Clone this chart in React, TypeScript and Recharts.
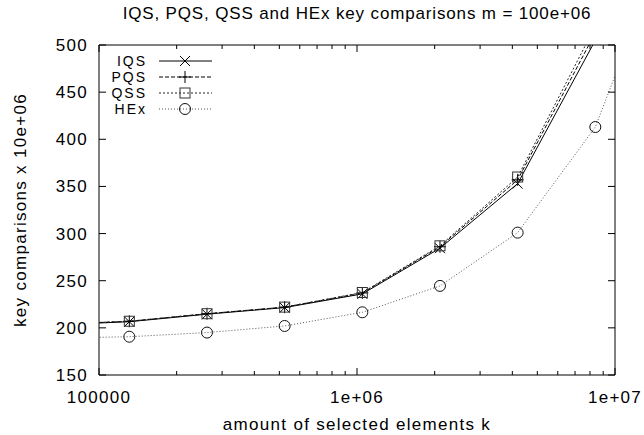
import React from "react";
import {
  LineChart,
  Line,
  XAxis,
  YAxis,
  Legend,
} from "recharts";

// k = 2^16 .. 2^24 (the outer two are clipped by the frame)
const K = [65536, 131072, 262144, 524288, 1048576, 2097152, 4194304, 8388608, 16777216];
const IQS = [203, 206.5, 214.5, 221.5, 236, 284.5, 353, 505, 760];
const PQS = [203.5, 207, 215, 222, 237, 286, 357, 513, 775];
const QSS = [204, 207, 215, 222, 237.5, 287, 360, 520, 790];
const HEX = [189, 190.6, 195, 202, 216.5, 244.5, 301, 413, 627];

const X_TICKS = [
  100000, 200000, 300000, 400000, 500000, 600000, 700000, 800000, 900000,
  1000000, 2000000, 3000000, 4000000, 5000000, 6000000, 7000000, 8000000, 9000000,
  10000000,
];
const X_LABELS: Record<number, string> = {
  100000: "100000",
  1000000: "1e+06",
  10000000: "1e+07",
};
const Y_TICKS = [150, 200, 250, 300, 350, 400, 450, 500];

const TITLE = "IQS, PQS, QSS and HEx key comparisons m = 100e+06";
const X_TITLE = "amount of selected elements k";
const Y_TITLE = "key comparisons x 10e+06";

const data = K.map((k, i) => ({
  k,
  iqs: IQS[i],
  pqs: PQS[i],
  qss: QSS[i],
  hex: HEX[i],
}));

const W = 644;
const H = 435;
const PLOT = { left: 99, right: 615, top: 45, bottom: 375 };
const FONT: React.CSSProperties = {
  fontFamily: '"Liberation Sans", Arial, Helvetica, sans-serif',
  fontSize: 17,
  letterSpacing: 1.3,
};
const TITLE_FONT: React.CSSProperties = { ...FONT, letterSpacing: 0.85 };
const LEGEND_FONT: React.CSSProperties = { ...FONT, fontSize: 14, letterSpacing: 2 };

type Shape = "cross" | "plus" | "square" | "circle";

const Marker = ({ cx, cy, shape, color }: { cx: number; cy: number; shape: Shape; color: string }) => {
  if (cx == null || cy == null || isNaN(cx) || isNaN(cy)) return <g />;
  const r = 5;
  if (shape === "cross")
    return (
      <g stroke={color} strokeWidth={1}>
        <line x1={cx - r} y1={cy - r} x2={cx + r} y2={cy + r} />
        <line x1={cx - r} y1={cy + r} x2={cx + r} y2={cy - r} />
      </g>
    );
  if (shape === "plus")
    return (
      <g stroke={color} strokeWidth={1}>
        <line x1={cx - r - 1} y1={cy} x2={cx + r + 1} y2={cy} />
        <line x1={cx} y1={cy - r - 1} x2={cx} y2={cy + r + 1} />
      </g>
    );
  if (shape === "square")
    return <rect x={cx - r} y={cy - r} width={2 * r} height={2 * r} fill="none" stroke={color} strokeWidth={1} />;
  return <circle cx={cx} cy={cy} r={r + 0.5} fill="none" stroke={color} strokeWidth={1} />;
};

const series = [
  { key: "iqs", name: "IQS", stroke: "#000", dash: undefined, shape: "cross" as Shape, mark: "#000" },
  { key: "pqs", name: "PQS", stroke: "#000", dash: "4 2", shape: "plus" as Shape, mark: "#000" },
  { key: "qss", name: "QSS", stroke: "#222", dash: "2 2", shape: "square" as Shape, mark: "#333" },
  { key: "hex", name: "HEx", stroke: "#555", dash: "1 2", shape: "circle" as Shape, mark: "#111" },
];

const XTick = (props: any) => {
  const { x, payload } = props;
  const v = payload.value;
  const label = X_LABELS[v];
  const len = label ? 7 : 4;
  return (
    <g>
      <line x1={x} x2={x} y1={PLOT.bottom} y2={PLOT.bottom - len} stroke="#000" />
      <line x1={x} x2={x} y1={PLOT.top} y2={PLOT.top + len} stroke="#000" />
      {label && (
        <text x={x} y={403} textAnchor="middle" fill="#000" style={FONT}>
          {label}
        </text>
      )}
    </g>
  );
};

const YTick = (props: any) => {
  const { y, payload } = props;
  return (
    <g>
      <line x1={PLOT.left} x2={PLOT.left + 7} y1={y} y2={y} stroke="#000" />
      <line x1={PLOT.right} x2={PLOT.right - 7} y1={y} y2={y} stroke="#000" />
      <text x={88} y={y + 6} textAnchor="end" fill="#000" style={FONT}>
        {payload.value}
      </text>
    </g>
  );
};

const LegendBox = () => (
  <svg width={230} height={125} style={{ display: "block" }}>
    {series.map((s, i) => {
      const y = 61 + i * 16;
      return (
        <g key={s.key}>
          <text x={147} y={y + 5} textAnchor="end" fill="#000" style={LEGEND_FONT}>
            {s.name}
          </text>
          <line x1={159} x2={212} y1={y} y2={y} stroke={s.stroke} strokeDasharray={s.dash} />
          <Marker cx={185} cy={y} shape={s.shape} color={s.mark} />
        </g>
      );
    })}
  </svg>
);

export default function App() {
  return (
    <div style={{ position: "absolute", left: 0, top: 0, width: W, height: H, background: "#fff" }}>
      <LineChart
        width={W}
        height={H}
        data={data}
        margin={{ top: PLOT.top - 1, right: W - PLOT.right - 1, bottom: 0, left: 0 }}
      >
        <XAxis
          xAxisId="b"
          dataKey="k"
          type="number"
          scale="log"
          domain={[100000, 10000000]}
          allowDataOverflow
          ticks={X_TICKS}
          interval={0}
          height={H - PLOT.bottom}
          tick={<XTick />}
          tickLine={false}
          axisLine={{ stroke: "#000" }}
          label={{ value: X_TITLE, position: "insideBottom", offset: 5, fill: "#000", style: FONT }}
        />
        <XAxis
          xAxisId="t"
          dataKey="k"
          type="number"
          scale="log"
          orientation="top"
          domain={[100000, 10000000]}
          allowDataOverflow
          height={1}
          tick={false}
          tickLine={false}
          axisLine={{ stroke: "#000" }}
          label={{ value: TITLE, position: "top", offset: 25, fill: "#000", style: TITLE_FONT }}
        />
        <YAxis
          yAxisId="l"
          type="number"
          domain={[150, 500]}
          allowDataOverflow
          ticks={Y_TICKS}
          interval={0}
          width={PLOT.left}
          tick={<YTick />}
          tickLine={false}
          axisLine={{ stroke: "#000" }}
          label={{
            value: Y_TITLE,
            angle: -90,
            position: "insideLeft",
            offset: 20,
            fill: "#000",
            style: { ...FONT, textAnchor: "middle" },
          }}
        />
        <YAxis
          yAxisId="r"
          orientation="right"
          type="number"
          domain={[150, 500]}
          allowDataOverflow
          width={1}
          tick={false}
          tickLine={false}
          axisLine={{ stroke: "#000" }}
        />
        <Legend
          layout="vertical"
          align="center"
          verticalAlign="middle"
          wrapperStyle={{ left: 0, top: 0, width: 230, height: 125 }}
          content={() => <LegendBox />}
        />
        {series.map((s) => (
          <Line
            key={s.key}
            xAxisId="b"
            yAxisId="l"
            dataKey={s.key}
            name={s.name}
            type="linear"
            stroke={s.stroke}
            strokeWidth={1}
            strokeDasharray={s.dash}
            isAnimationActive={false}
            dot={(p: any) => <Marker key={`${s.key}-${p.index}`} cx={p.cx} cy={p.cy} shape={s.shape} color={s.mark} />}
            activeDot={false}
          />
        ))}
      </LineChart>
    </div>
  );
}
